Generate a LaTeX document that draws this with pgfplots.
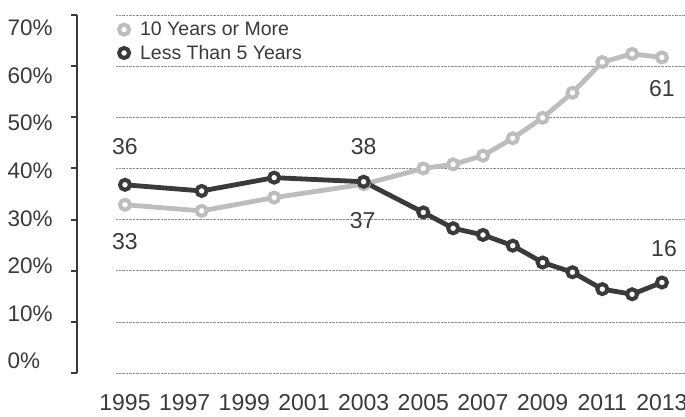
\documentclass[border=0pt]{standalone}
\usepackage{pgfplots}
\pgfplotsset{compat=1.18}
\usepackage{fontspec}
\setmainfont{Liberation Sans}
\definecolor{txt}{HTML}{3A3A3A}
\definecolor{dk}{HTML}{3A3A3A}
\definecolor{lt}{HTML}{BDBDC0}
\definecolor{gridc}{HTML}{8C8C8C}
\begin{document}
\begin{tikzpicture}
\useasboundingbox (0pt,0pt) rectangle (685pt,416pt);
% tick-label axis (labels are spaced a little tighter than the ticks)
\begin{axis}[at={(77pt,55pt)}, anchor=south west, scale only axis,
  width=10pt, height=333pt, ymin=0, ymax=70, xmin=0, xmax=1,
  hide x axis, axis y line*=left, y axis line style={draw=none},
  ytick={0,10,...,70}, major tick length=0pt,
  /pgf/number format/assume math mode=true,
  yticklabel={\pgfmathprintnumber{\tick}\%},
  yticklabel style={anchor=west, xshift=-73pt, font=\fontsize{22.5}{22.5}\selectfont, text=txt}]
\addplot[draw=none] coordinates {(0,0)};
\end{axis}
\begin{axis}[at={(77pt,43pt)}, anchor=south west, scale only axis,
  width=608pt, height=358pt,
  xmin=1993.391, xmax=2013.773, ymin=0, ymax=70,
  axis y line*=left, axis x line*=bottom,
  x axis line style={draw=none},
  y axis line style={line width=2pt, color=dk},
  ytick={0,10,...,70}, yticklabels={},
  ytick align=outside, ytick style={line width=2pt, color=dk},
  major tick length=6pt,
  xtick={1995,1997,...,2013}, xtick style={draw=none},
  /pgf/number format/1000 sep={},
  /pgf/number format/assume math mode=true,
  xticklabel style={inner ysep=1pt, yshift=-20pt, font=\fontsize{23}{23}\selectfont, text=txt},
  clip=false,
  legend style={at={(rel axis cs:0.064,0.992)}, anchor=north west, draw=none, fill=none,
    font=\fontsize{19.5}{19.5}\selectfont, text=txt, row sep=4pt, column sep=9pt},
  legend cell align=left,
  legend image code/.code={\draw[#1] plot[only marks] coordinates {(0.15cm,0cm)};},
  every axis plot/.append style={line width=4.8pt, mark=*, mark size=5pt,
    mark options={fill=white, line width=4pt}}]
\pgfplotsinvokeforeach{0,10,...,70}{\draw[gridc, line width=0.6pt, dash pattern=on 0.7pt off 0.7pt] (axis cs:1994.70,#1) -- (axis cs:2013.773,#1);}
\addplot[color=lt] coordinates {(1995,32.9) (1997.57,31.7) (2000,34.3) (2003,36.9) (2005,40.0) (2006,40.8) (2007,42.5) (2008,45.9) (2009,49.9) (2010,54.8) (2011,60.8) (2012,62.4) (2013,61.7)};
\addlegendentry{10 Years or More}
\addplot[color=dk] coordinates {(1995,36.8) (1997.57,35.6) (2000,38.2) (2003,37.4) (2005,31.4) (2006,28.3) (2007,27.0) (2008,24.9) (2009,21.6) (2010,19.7) (2011,16.4) (2012,15.4) (2013,17.7)};
\addlegendentry{Less Than 5 Years}
\begin{scope}[every node/.style={font=\fontsize{23}{23}\selectfont, text=txt}]
\node at (axis cs:1995,44.2) {36};
\node at (axis cs:1995,25.6) {33};
\node at (axis cs:2003,44.2) {38};
\node at (axis cs:2002.97,29.9) {37};
\node at (axis cs:2013,55.7) {61};
\node at (axis cs:2013.07,24.4) {16};
\end{scope}
\end{axis}
\end{tikzpicture}
\end{document}
